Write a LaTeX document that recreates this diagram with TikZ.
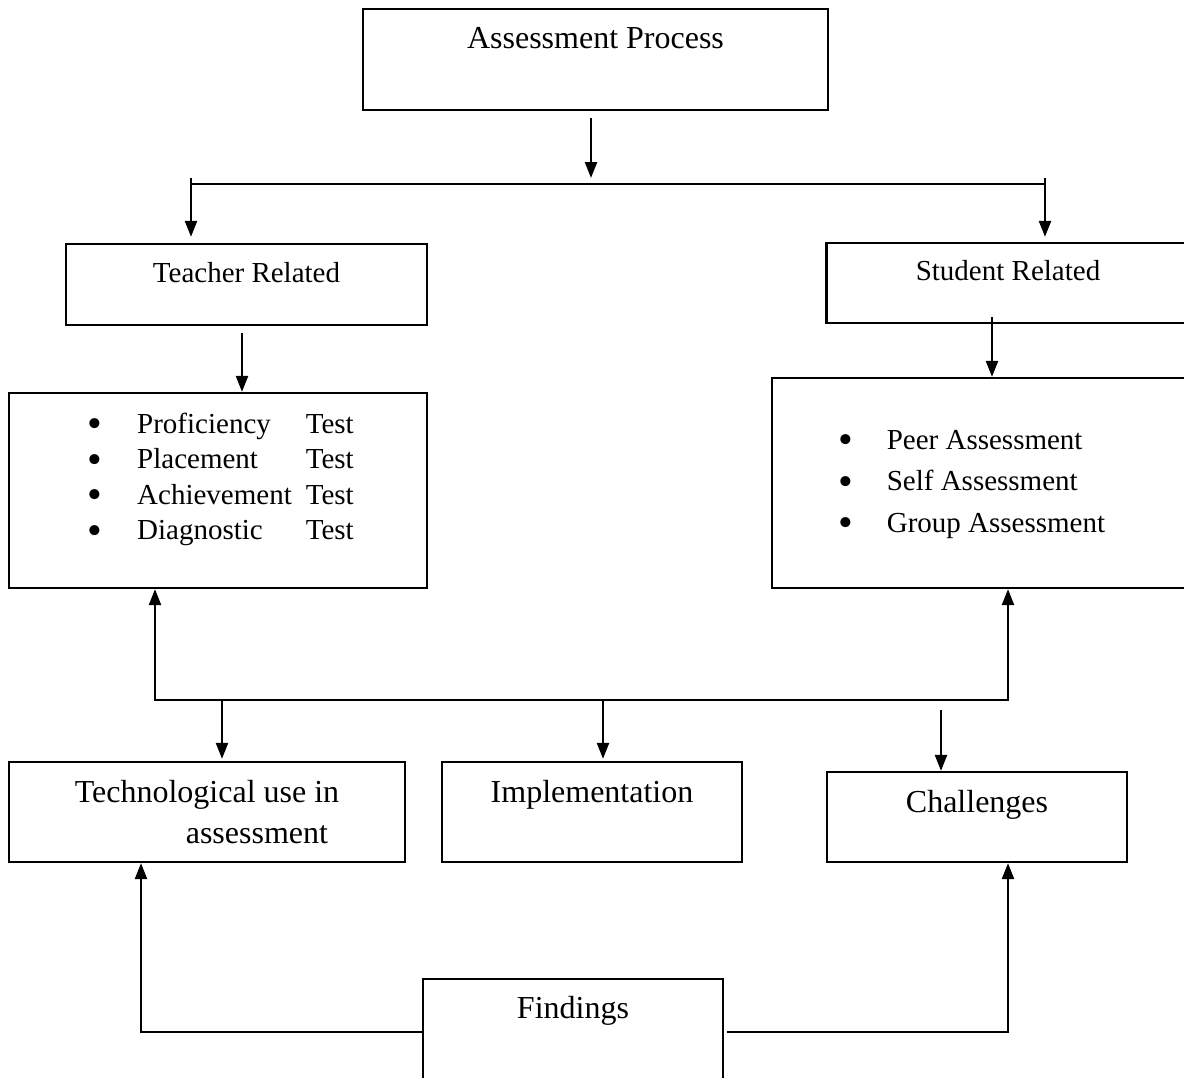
\documentclass[tikz,border=0pt]{standalone}
\usepackage{fontspec}
\setmainfont{Liberation Serif}
\usepackage{tikz}
\usetikzlibrary{arrows.meta}

\newcommand{\itemdot}{\raisebox{-4.5pt}[0pt][0pt]{\fontsize{42}{42}\selectfont\textbullet}}

\tikzset{
	box/.style={draw, line width=2.3pt, inner sep=0pt},
	big/.style={font=\fontsize{32}{41}\selectfont},
	small/.style={font=\fontsize{29}{35.5}\selectfont},
	arr/.style={line width=2.4pt, -{Triangle[length=16pt,width=12pt]}},
	lnk/.style={line width=2.4pt}
}

\begin{document}
\begin{tikzpicture}[x=1pt, y=-1pt]
	\useasboundingbox (0,0) rectangle (1184,1077);
	\clip (0,0) rectangle (1184,1077);

	% boxes
	\node[box, big, minimum width=465pt, minimum height=101pt, text height=39pt, text depth=62pt] (proc) at (595.5,59.5) {Assessment Process};
	\node[box, small, minimum width=361pt, minimum height=81pt, text height=38pt, text depth=43pt] (teacher) at (246.5,284.5) {Teacher Related};
	\node[box, small, minimum width=363pt, minimum height=80pt, text height=37pt, text depth=43pt] (student) at (1008,283) {Student Related};
	\node[box, small, minimum width=418pt, minimum height=195pt, text height=40pt, text depth=155pt] (tlist) at (218,490.5) {\hspace*{5.6pt}%
		\begin{tabular}[t]{@{}l@{\hspace{34.6pt}}l@{\hspace{14pt}}l@{}}
			\itemdot & Proficiency & Test\\
			\itemdot & Placement & Test\\
			\itemdot & Achievement & Test\\
			\itemdot & Diagnostic & Test
		\end{tabular}};
	\node[box, font=\fontsize{29}{41.5}\selectfont, minimum width=418pt, minimum height=210pt, text height=71pt, text depth=139pt] (slist) at (981,483) {\hspace*{-18.4pt}%
		\begin{tabular}[t]{@{}l@{\hspace{33.6pt}}l@{}}
			\itemdot & Peer Assessment\\
			\itemdot & Self Assessment\\
			\itemdot & Group Assessment
		\end{tabular}};
	\node[box, big, align=left, minimum width=396pt, minimum height=100pt, text height=81pt, text depth=19pt] (tech) at (207,812) {Technological use in\\\hspace*{111pt}assessment};
	\node[box, big, minimum width=300pt, minimum height=100pt, text height=40pt, text depth=60pt] (impl) at (592,812) {Implementation};
	\node[box, big, minimum width=300pt, minimum height=90pt, text height=40pt, text depth=50pt] (chall) at (977,817) {Challenges};
	\node[box, big, minimum width=300pt, minimum height=106pt, text height=39pt, text depth=67pt] (findings) at (573,1032) {Findings};

	% junctions
	\coordinate (mid) at (591,184);
	\coordinate (topL) at (191,184);
	\coordinate (topR) at (1045,184);
	\coordinate (botL) at (155,700);
	\coordinate (botR) at (1008,700);

	% top split
	\draw[arr, shorten <=7pt, shorten >=6pt] (mid |- proc.south) -- (mid);
	\draw[lnk] (topL) -- (topR);
	\draw[arr, shorten >=6pt] ([yshift=6pt]topL) -- (topL |- teacher.north);
	\draw[arr, shorten >=5pt] ([yshift=6pt]topR) -- (topR |- student.north);

	% into the lists
	\draw[arr, shorten <=7pt] ([xshift=-4.5pt]teacher.south) -- ([xshift=-4.5pt]teacher.south |- tlist.north);
	\draw[arr] ([xshift=-16pt,yshift=7pt]student.south) -- ([xshift=-16pt]student.south |- slist.north);

	% middle link
	\draw[lnk, {Triangle[length=16pt,width=12pt]}-{Triangle[length=16pt,width=12pt]}] (botL |- tlist.south) -- (botL) -- (botR) -- (botR |- slist.south);
	\draw[arr, shorten >=2pt] ([xshift=15pt]tech.north |- botL) -- ([xshift=15pt]tech.north);
	\draw[arr, shorten >=2pt] ([xshift=11pt]impl.north |- botL) -- ([xshift=11pt]impl.north);
	\draw[arr] ([xshift=-36pt,yshift=-10pt]chall.north |- botL) -- ([xshift=-36pt]chall.north);

	% findings
	\draw[arr] (findings.west) -| ([xshift=-66pt]tech.south);
	\draw[arr, shorten <=3pt] (findings.east) -| ([xshift=31pt]chall.south);
\end{tikzpicture}
\end{document}
